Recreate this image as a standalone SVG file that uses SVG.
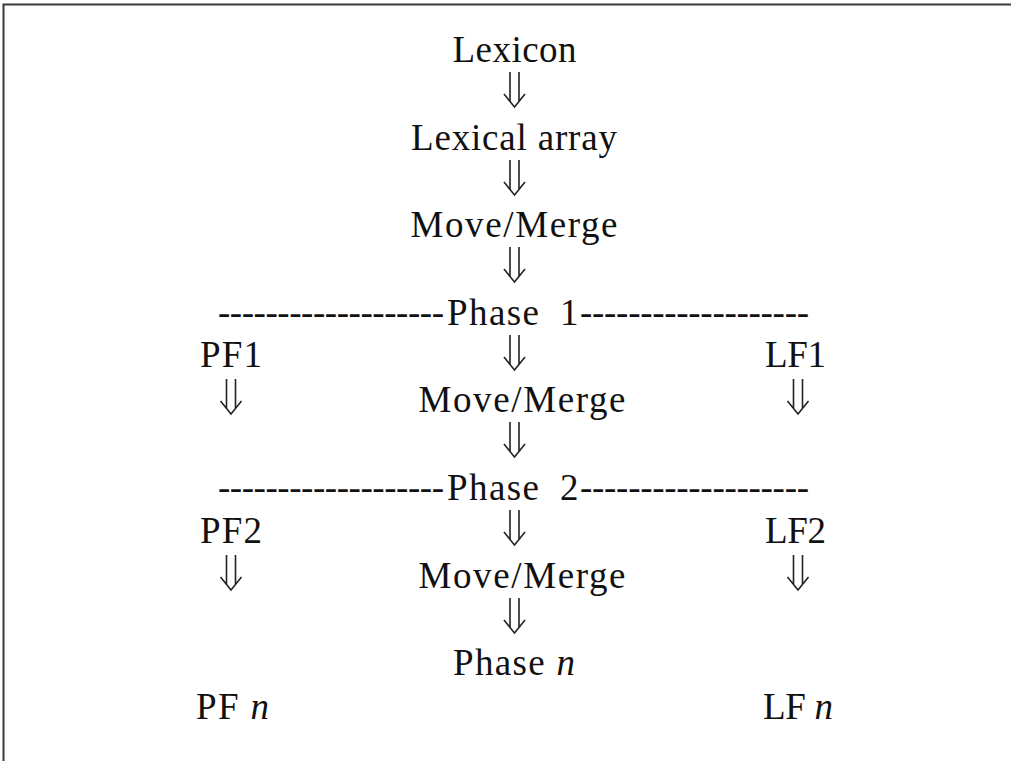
<svg xmlns="http://www.w3.org/2000/svg" width="1011" height="761" viewBox="0 0 1011 761">
<defs>
<style>
.t{font-family:"Liberation Serif","Times New Roman",serif;font-size:37px;fill:#111;}
.c{text-anchor:middle;}
.i{font-style:italic;}
.arr{fill:none;stroke:#222;stroke-width:1.6;stroke-linejoin:miter;}
.frame{stroke:#3a3a3a;stroke-width:2;fill:none;}
</style>
<symbol id="dn" overflow="visible">
<path d="M-4.5,0 V30 M4.5,0 V30 M-10.5,22 L0,35 L10.5,22" class="arr"/>
</symbol>
</defs>
<rect width="1011" height="761" fill="#fff"/>
<path class="frame" d="M3.5,761 V4.5 H1011"/>

<g id="n-lexicon"><text class="t c" x="514.5" y="62" textLength="124">Lexicon</text></g>
<g id="n-lexarray"><text class="t c" x="514" y="150" textLength="206">Lexical array</text></g>
<g id="n-mm1"><text class="t c" x="514" y="237" textLength="207">Move/Merge</text></g>
<g id="n-phase1"><text class="t" y="325" xml:space="preserve"><tspan x="218" textLength="226">-------------------</tspan><tspan x="447" textLength="92">Phase</tspan><tspan x="560">1</tspan><tspan x="580" textLength="229">-------------------</tspan></text></g>
<g id="n-pf1"><text class="t" x="200" y="367" textLength="62">PF1</text></g>
<g id="n-lf1"><text class="t" x="765" y="367" textLength="61">LF1</text></g>
<g id="n-mm2"><text class="t c" x="522" y="412" textLength="207">Move/Merge</text></g>
<g id="n-phase2"><text class="t" y="500" xml:space="preserve"><tspan x="218" textLength="226">-------------------</tspan><tspan x="447" textLength="92">Phase</tspan><tspan x="560">2</tspan><tspan x="580" textLength="229">-------------------</tspan></text></g>
<g id="n-pf2"><text class="t" x="200" y="543" textLength="62">PF2</text></g>
<g id="n-lf2"><text class="t" x="765" y="543" textLength="61">LF2</text></g>
<g id="n-mm3"><text class="t c" x="522" y="588" textLength="207">Move/Merge</text></g>
<g id="n-phasen"><text class="t" x="453" y="675" textLength="122">Phase <tspan class="i">n</tspan></text></g>
<g id="n-pfn"><text class="t" x="196" y="719" textLength="73">PF <tspan class="i">n</tspan></text></g>
<g id="n-lfn"><text class="t" x="763" y="719" textLength="70">LF <tspan class="i">n</tspan></text></g>

<g id="connectors">
<use href="#dn" x="514.5" y="72"/>
<use href="#dn" x="514.5" y="160"/>
<use href="#dn" x="514.5" y="247"/>
<use href="#dn" x="514.5" y="335"/>
<use href="#dn" x="514.5" y="422"/>
<use href="#dn" x="514.5" y="510"/>
<use href="#dn" x="514.5" y="598"/>
<use href="#dn" x="231" y="379"/>
<use href="#dn" x="798" y="379"/>
<use href="#dn" x="231" y="555"/>
<use href="#dn" x="798" y="555"/>
</g>
</svg>
